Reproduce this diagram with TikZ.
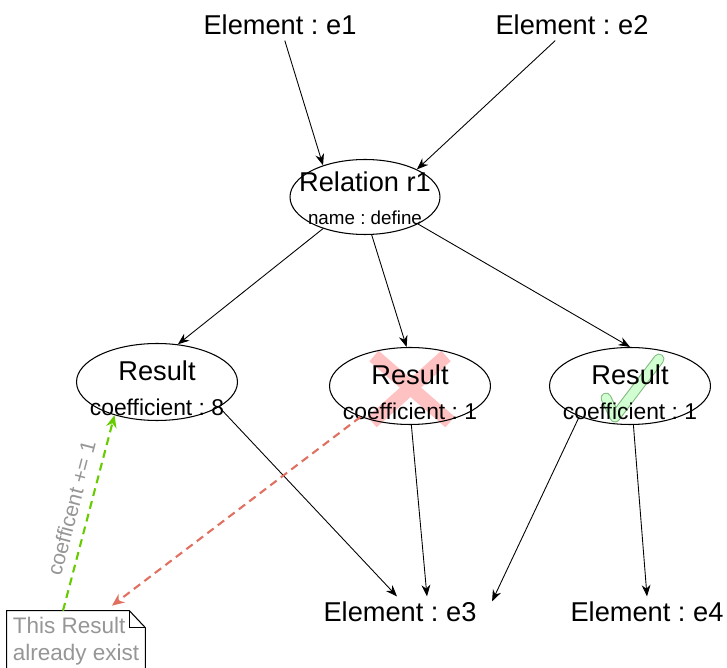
\documentclass[tikz,border=0pt]{standalone}
\usepackage{fontspec}
\setmainfont{Liberation Sans}
\frenchspacing
\usetikzlibrary{arrows.meta,shapes.geometric,backgrounds}
\definecolor{notegray}{RGB}{150,150,150}
\definecolor{okgreen}{RGB}{102,204,0}
\definecolor{badred}{RGB}{224,112,96}
\newcommand{\bigtxt}{\fontsize{15.5}{18}\selectfont}
\newcommand{\midtxt}{\fontsize{13}{16}\selectfont}

\begin{document}
\begin{tikzpicture}[x=0.02cm, y=-0.02cm]
    \useasboundingbox (0, 0) rectangle (727, 668);
    \tikzset{ElementNode/.style={inner sep=3pt, font=\bigtxt}}
    \tikzset{ResultNode/.style={ellipse, draw=black, line width=0.6pt, minimum width=3.22cm, minimum height=1.54cm, inner sep=0pt}}
    \tikzset{ResultText/.style={align=center, font=\bigtxt, inner sep=0pt, yshift=-0.12cm}}
    \tikzset{Connection/.style={-{Stealth[length=6.5pt, width=5pt]}, line width=0.5pt}}
    \tikzset{Hint/.style={-{Stealth[length=7pt, width=6pt]}, dashed, dash pattern=on 4.5pt off 3pt, line width=1.2pt}}
    \node[ElementNode] (elem-1) at (280, 25) {Element : e1}; % e1
    \node[ElementNode] (elem-2) at (572, 25) {Element : e2}; % e2
    \node[ResultNode, minimum width=3cm, minimum height=1.5cm, label={[ResultText, yshift=0.1cm]center:{Relation r1\\[1pt]{\fontsize{10.7}{13}\selectfont name : define}}}] (rel-1) at (365, 197) {}; % r1
    \node[ResultNode, label={[ResultText]center:{Result\\[2pt]{\midtxt coefficient : 8}}}] (res-1) at (157, 382) {}; % result 1
    \node[ResultNode, label={[ResultText]center:{Result\\[2pt]{\midtxt coefficient : 1}}}] (res-2) at (410, 386) {}; % result 2
    \node[ResultNode, label={[ResultText]center:{Result\\[2pt]{\midtxt coefficient : 1}}}] (res-3) at (630, 386) {}; % result 3
    \node[ElementNode] (elem-3) at (400, 612) {Element : e3}; % e3
    \node[ElementNode] (elem-4) at (647, 612) {Element : e4}; % e4
    \node[minimum width=2.68cm, minimum height=1.2cm, align=left, text=notegray, font=\fontsize{12.8}{15.5}\selectfont] (note) at (76, 641) {This Result\\already exist}; % note

    % marks behind the texts
    \begin{scope}[on background layer]
        \draw[red!24, line width=8pt] ([shift={(-36, -30)}]res-2.center) -- ([shift={(40, 36)}]res-2.center);
        \draw[red!24, line width=8pt] ([shift={(36, -30)}]res-2.center) -- ([shift={(-38, 36)}]res-2.center);
        \draw[green!45!black!50, double=green!18, double distance=5pt, line width=0.6pt, line cap=round, line join=round]
            ([shift={(-24, 12)}]res-3.center) -- ([shift={(-15, 31)}]res-3.center) -- ([shift={(29, -27)}]res-3.center);
    \end{scope}

    % note outline
    \draw[line width=0.6pt] (note.south west) -- (note.north west) -- ([xshift=-0.32cm]note.north east) -- ([yshift=-0.34cm]note.north east) -- (note.south east);
    \draw[line width=0.6pt] ([xshift=-0.32cm]note.north east) |- ([yshift=-0.34cm]note.north east);

    \draw[Connection] (elem-1) -- (rel-1.143);
    \draw[Connection] (elem-2) -- (rel-1.28);
    \draw[Connection] (rel-1.217) -- (res-1.61);
    \draw[Connection] (rel-1.280) -- (res-2.95);
    \draw[Connection] (rel-1.333) -- (res-3.north);
    \draw[Connection] (res-1.338) -- ([xshift=-0.06cm]elem-3.north);
    \draw[Connection] (res-2.272) -- ([xshift=0.54cm]elem-3.north);
    \draw[Connection] (res-3.211) -- ([xshift=0.2cm, yshift=-0.1cm]elem-3.north east);
    \draw[Connection] (res-3.275) -- (elem-4.north);
    \draw[Hint, okgreen] ([xshift=-0.26cm]note.north) -- node[sloped, above=2pt, text=notegray, font=\fontsize{12}{14}\selectfont] {coefficent += 1} (res-1.218);
    \draw[Hint, badred] (res-2.212) -- ([xshift=0.72cm, yshift=0.1cm]note.north);
\end{tikzpicture}
\end{document}
